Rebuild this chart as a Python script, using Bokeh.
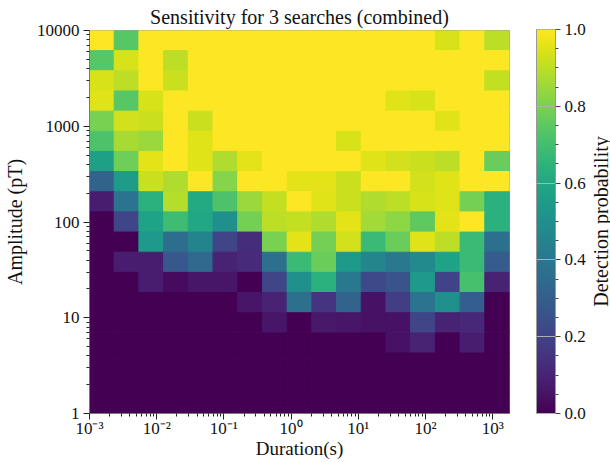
import numpy as np
from bokeh.plotting import figure
from bokeh.layouts import row
from bokeh.models import (ColumnDataSource, ColorBar, LinearColorMapper, FixedTicker, Range1d, Label,
                          SingleIntervalTicker, CustomJSTickFormatter, PrintfTickFormatter)
from bokeh.palettes import Viridis256
from bokeh.transform import linear_cmap
from bokeh.embed import file_html
from bokeh.resources import INLINE

title_text = "Sensitivity for 3 searches (combined)"
x_label = "Duration(s)"
y_label = "Amplitude (pT)"
cbar_label = "Detection probability"

# binning (log10 of the bin edges' extremes, number of bins)
duration_log_min, duration_log_max, n_duration = -3.0, 3.25, 17
amplitude_log_min, amplitude_log_max, n_amplitude = 0.0, 4.0, 19

x_major_ticks = [1e-3, 1e-2, 1e-1, 1e0, 1e1, 1e2, 1e3]
y_major_ticks = [1, 10, 100, 1000, 10000]
cbar_ticks_interval = 0.2

# detection probability, rows listed from the highest amplitude bin (top) to the lowest (bottom)
prob_rows = [
    [1.00, 0.74, 1.00, 1.00, 1.00, 1.00, 1.00, 1.00, 1.00, 1.00, 1.00, 1.00, 1.00, 1.00, 0.94, 1.00, 0.90],
    [0.74, 0.94, 1.00, 0.90, 1.00, 1.00, 1.00, 1.00, 1.00, 1.00, 1.00, 1.00, 1.00, 1.00, 1.00, 1.00, 1.00],
    [0.94, 0.90, 1.00, 0.92, 1.00, 1.00, 1.00, 1.00, 1.00, 1.00, 1.00, 1.00, 1.00, 1.00, 1.00, 1.00, 0.91],
    [0.95, 0.74, 0.94, 1.00, 1.00, 1.00, 1.00, 1.00, 1.00, 1.00, 1.00, 1.00, 0.95, 0.94, 1.00, 1.00, 1.00],
    [0.80, 0.93, 0.92, 1.00, 0.92, 1.00, 1.00, 1.00, 1.00, 1.00, 1.00, 1.00, 1.00, 1.00, 0.95, 1.00, 1.00],
    [0.72, 0.87, 0.85, 1.00, 0.95, 1.00, 1.00, 1.00, 1.00, 1.00, 0.94, 1.00, 1.00, 1.00, 1.00, 1.00, 1.00],
    [0.57, 0.78, 0.96, 1.00, 0.95, 0.88, 0.96, 1.00, 1.00, 1.00, 1.00, 0.95, 0.93, 0.92, 0.90, 1.00, 0.77],
    [0.32, 0.55, 0.92, 0.88, 1.00, 0.82, 1.00, 1.00, 0.96, 0.96, 0.92, 1.00, 1.00, 0.93, 0.95, 1.00, 1.00],
    [0.08, 0.38, 0.64, 0.89, 0.61, 0.72, 0.85, 0.91, 1.00, 0.95, 0.92, 0.88, 0.90, 0.94, 0.95, 0.79, 0.64],
    [0.00, 0.21, 0.58, 0.69, 0.60, 0.50, 0.79, 0.90, 0.91, 0.88, 0.96, 0.86, 0.83, 0.75, 0.96, 1.00, 0.64],
    [0.00, 0.00, 0.54, 0.36, 0.45, 0.21, 0.13, 0.80, 0.96, 0.79, 0.93, 0.68, 0.77, 0.95, 0.90, 0.68, 0.37],
    [0.00, 0.08, 0.08, 0.27, 0.34, 0.10, 0.12, 0.37, 0.68, 0.77, 0.54, 0.46, 0.40, 0.48, 0.58, 0.68, 0.29],
    [0.00, 0.00, 0.08, 0.03, 0.06, 0.06, 0.00, 0.21, 0.50, 0.64, 0.40, 0.22, 0.26, 0.54, 0.20, 0.71, 0.10],
    [0.00, 0.00, 0.00, 0.00, 0.00, 0.00, 0.06, 0.10, 0.37, 0.15, 0.32, 0.05, 0.18, 0.38, 0.50, 0.30, 0.00],
    [0.00, 0.00, 0.00, 0.00, 0.00, 0.00, 0.00, 0.06, 0.00, 0.07, 0.06, 0.05, 0.05, 0.21, 0.10, 0.11, 0.00],
    [0.00, 0.00, 0.00, 0.00, 0.00, 0.00, 0.00, 0.00, 0.00, 0.00, 0.00, 0.00, 0.05, 0.10, 0.00, 0.08, 0.00],
    [0.00, 0.00, 0.00, 0.00, 0.00, 0.00, 0.00, 0.00, 0.00, 0.00, 0.00, 0.00, 0.00, 0.00, 0.00, 0.00, 0.00],
    [0.00, 0.00, 0.00, 0.00, 0.00, 0.00, 0.00, 0.00, 0.00, 0.00, 0.00, 0.00, 0.00, 0.00, 0.00, 0.00, 0.00],
    [0.00, 0.00, 0.00, 0.00, 0.00, 0.00, 0.00, 0.00, 0.00, 0.00, 0.00, 0.00, 0.00, 0.00, 0.00, 0.00, 0.00],
]

FONT = "Liberation Serif"
TXT = "#111111"

dur_edges = np.logspace(duration_log_min, duration_log_max, n_duration + 1)
amp_edges = np.logspace(amplitude_log_min, amplitude_log_max, n_amplitude + 1)

left, right, bottom, top, prob = [], [], [], [], []
for i, r in enumerate(prob_rows):
    j = n_amplitude - 1 - i
    for c, v in enumerate(r):
        left.append(dur_edges[c]); right.append(dur_edges[c + 1])
        bottom.append(amp_edges[j]); top.append(amp_edges[j + 1])
        prob.append(v)
src = ColumnDataSource(dict(left=left, right=right, bottom=bottom, top=top, prob=prob))

# ---------------- main heat map ----------------
p = figure(width=536, height=462, x_axis_type="log", y_axis_type="log",
           x_range=(dur_edges[0], dur_edges[-1]), y_range=(amp_edges[0], amp_edges[-1]),
           toolbar_location=None, output_backend="svg", title=title_text,
           min_border_left=87, min_border_right=27, min_border_top=29, min_border_bottom=49)

cmap = linear_cmap("prob", Viridis256, 0.0, 1.0)
p.quad(left="left", right="right", bottom="bottom", top="top", source=src,
       fill_color=cmap, line_color=cmap, line_width=1.0)

x_minor = [m * t for t in x_major_ticks for m in range(2, 10)]
y_minor = [m * t for t in y_major_ticks[:-1] for m in range(2, 10)]
p.xaxis.ticker = FixedTicker(ticks=x_major_ticks, minor_ticks=x_minor)
p.yaxis.ticker = FixedTicker(ticks=y_major_ticks, minor_ticks=y_minor)
p.xaxis.formatter = CustomJSTickFormatter(code="""
const e = Math.round(Math.log10(tick));
const sup = {"-":"\u207b","0":"\u2070","1":"\u00b9","2":"\u00b2","3":"\u00b3","4":"\u2074","5":"\u2075","6":"\u2076","7":"\u2077","8":"\u2078","9":"\u2079"};
return "10" + String(e).split("").map(c => sup[c]).join("");
""")
p.yaxis.formatter = CustomJSTickFormatter(code="return Math.round(tick).toString();")

p.xgrid.visible = False
p.ygrid.visible = False
p.outline_line_color = "#999999"
for ax in (p.xaxis[0], p.yaxis[0]):
    ax.axis_line_color = "#777777"
    ax.major_tick_in = 0
    ax.major_tick_out = 6
    ax.minor_tick_in = 0
    ax.minor_tick_out = 3
    ax.major_tick_line_color = "#222222"
    ax.minor_tick_line_color = "#222222"
    ax.major_label_text_font = FONT
    ax.major_label_text_font_size = "17px"
    ax.major_label_text_color = TXT
    ax.axis_label_text_font = FONT
    ax.axis_label_text_font_size = "20px"
    ax.axis_label_text_font_style = "normal"
    ax.axis_label_text_color = TXT
p.xaxis.axis_label = x_label
p.yaxis.axis_label = y_label
p.xaxis.major_label_standoff = -1
p.xaxis.axis_label_standoff = -3
p.xaxis.axis_label_text_font_size = "19px"
p.yaxis.major_label_standoff = 4
p.yaxis.axis_label_standoff = 8

p.title.text_font = FONT
p.title.text_font_size = "20px"
p.title.text_font_style = "normal"
p.title.align = "center"
p.title.text_color = TXT
p.title.standoff = 6

# ---------------- colour bar (its own small panel to the right) ----------------
mapper = LinearColorMapper(palette=Viridis256, low=0.0, high=1.0)
cb_ticker = SingleIntervalTicker(interval=cbar_ticks_interval, num_minor_ticks=4)

q = figure(width=74, height=462, x_range=Range1d(0, 1), y_range=Range1d(0, 1),
           x_axis_location=None, y_axis_location=None,
           toolbar_location=None, output_backend="svg",
           min_border_left=0, min_border_right=0, min_border_top=29, min_border_bottom=49)
q.xgrid.visible = False
q.ygrid.visible = False
q.outline_line_color = None

# bar with outer ticks and labels
cb = ColorBar(color_mapper=mapper, location=(0, 0), width=19, height=384, padding=0, margin=0,
              ticker=cb_ticker, formatter=PrintfTickFormatter(format="%.1f"),
              major_tick_in=0, major_tick_out=5, minor_tick_in=0, minor_tick_out=3,
              major_tick_line_color="#444444", minor_tick_line_color="#444444",
              bar_line_color="#999999", border_line_color=None, background_fill_alpha=0,
              label_standoff=4, major_label_text_font=FONT, major_label_text_font_size="17px",
              major_label_text_color=TXT)
q.add_layout(cb, "center")
# faint lines across the bar at the major ticks
cb_lines = ColorBar(color_mapper=mapper, location=(0, 0), width=19, height=384, padding=0, margin=0,
                    ticker=SingleIntervalTicker(interval=cbar_ticks_interval, num_minor_ticks=0),
                    scale_alpha=0.0, major_tick_in=19, major_tick_out=0, minor_tick_in=0, minor_tick_out=0,
                    major_tick_line_color="#b0b0b0", bar_line_color=None, border_line_color=None,
                    background_fill_alpha=0, major_label_text_alpha=0, major_label_text_font_size="1px")
q.add_layout(cb_lines, "center")

cb_title = Label(x=64, y=192, x_units="screen", y_units="screen", text=cbar_label,
                 angle=90, angle_units="deg", text_align="center", text_baseline="middle",
                 text_font=FONT, text_font_size="20px", text_color=TXT)
q.add_layout(cb_title)

layout = row(p, q)
open("out.html", "w").write(file_html(layout, INLINE))
